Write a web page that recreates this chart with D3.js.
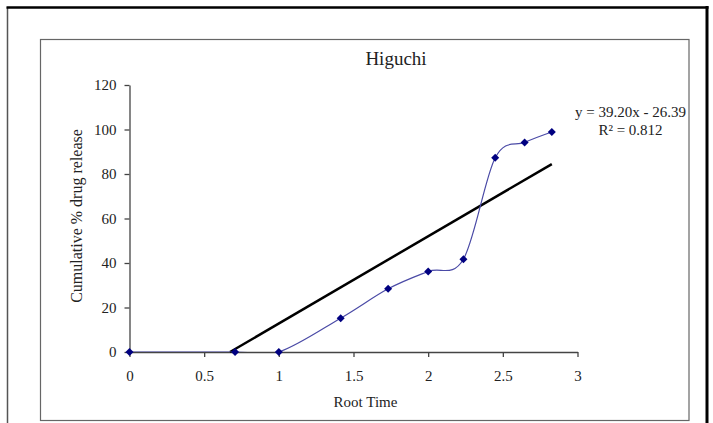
<!DOCTYPE html>
<html lang="en">
<head>
    <meta charset="utf-8">
    <title>Higuchi</title>
    <script src="https://d3js.org/d3.v7.min.js"></script>
    <style>
        body { margin: 0; background: #fff; }
        text { font-family: "Liberation Serif", "Times New Roman", serif; fill: #222; }
    </style>
</head>
<body onload="main()">
    <svg width="713" height="423" id="svg1"></svg>
    <script>
        // values
        var rootTime = [0, 0.707, 1, 1.414, 1.732, 2, 2.236, 2.449, 2.646, 2.828];
        var cumRelease = [0, 0, 0, 15.2, 28.4, 36.2, 41.7, 87.3, 94.2, 98.9];
        var xTicks = [0, 0.5, 1, 1.5, 2, 2.5, 3];
        var yTicks = [0, 20, 40, 60, 80, 100, 120];
        var trendSlope = 39.20,
            trendIntercept = -26.39;
        var trendLabels = ["y = 39.20x - 26.39", "R² = 0.812"];

        function main() {
            var svg1 = d3.select("#svg1");

            svg1.append("rect")
                .attr("width", 713).attr("height", 423)
                .attr("fill", "#fff");

            // outer frame (left thin, top and right thick)
            svg1.append("line").attr("x1", 7.5).attr("x2", 7.5).attr("y1", 7).attr("y2", 423)
                .attr("stroke", "#555").attr("stroke-width", 1.5);
            svg1.append("line").attr("x1", 6.5).attr("x2", 708.5).attr("y1", 7.5).attr("y2", 7.5)
                .attr("stroke", "#000").attr("stroke-width", 2.5);
            svg1.append("line").attr("x1", 707).attr("x2", 707).attr("y1", 6).attr("y2", 423)
                .attr("stroke", "#000").attr("stroke-width", 3);

            // chart area box
            svg1.append("rect")
                .attr("x", 40.5).attr("y", 39.5)
                .attr("width", 648.5).attr("height", 381)
                .attr("fill", "none")
                .attr("stroke", "#666")
                .attr("stroke-width", 1.2);

            var left = 129.5, top = 85, width = 448, height = 267;

            var xScale = d3.scaleLinear().domain([0, 3]).range([0, width]),
                yScale = d3.scaleLinear().domain([0, 120]).range([height, 0]);

            var g = svg1.append("g")
                .attr("transform", "translate(" + left + "," + top + ")");

            // keep the smoothed line from dipping under the x axis
            g.append("clipPath").attr("id", "plotclip")
                .append("rect")
                .attr("x", -10).attr("y", -20)
                .attr("width", width + 20).attr("height", height + 20);

            var xAxis = g.append("g")
                .attr("transform", "translate(0," + height + ")")
                .call(d3.axisBottom(xScale).tickValues(xTicks).tickSize(5).tickSizeOuter(0).tickPadding(13)
                    .tickFormat(function (d) { return d; }));
            var yAxis = g.append("g")
                .call(d3.axisLeft(yScale).tickValues(yTicks).tickSize(5).tickSizeOuter(0).tickPadding(8));

            [xAxis, yAxis].forEach(function (a) {
                a.select(".domain").attr("stroke", "#444").attr("stroke-width", 1.3);
                a.selectAll(".tick line").attr("stroke", "#444").attr("stroke-width", 1.3);
                a.selectAll(".tick text")
                    .attr("font-family", "Liberation Serif, Times New Roman, serif")
                    .attr("font-size", "15px")
                    .attr("fill", "#222");
            });

            // axis titles
            svg1.append("text")
                .attr("x", 365.5).attr("y", 407)
                .attr("text-anchor", "middle")
                .attr("font-size", "15px")
                .text("Root Time");
            svg1.append("text")
                .attr("transform", "translate(82,216) rotate(-90)")
                .attr("text-anchor", "middle")
                .attr("font-size", "16px")
                .text("Cumulative % drug release");
            svg1.append("text")
                .attr("x", 396).attr("y", 65)
                .attr("text-anchor", "middle")
                .attr("font-size", "19px")
                .text("Higuchi");

            // linear trendline, clipped at y = 0
            var x0 = -trendIntercept / trendSlope,
                x1 = d3.max(rootTime);
            g.append("line")
                .attr("x1", xScale(x0)).attr("y1", yScale(trendSlope * x0 + trendIntercept))
                .attr("x2", xScale(x1)).attr("y2", yScale(trendSlope * x1 + trendIntercept))
                .attr("stroke", "#000")
                .attr("stroke-width", 2.5);

            var data = rootTime.map(function (t, i) { return { x: t, y: cumRelease[i] }; });

            // smoothed series line
            g.append("path")
                .datum(data)
                .attr("clip-path", "url(#plotclip)")
                .attr("fill", "none")
                .attr("stroke", "#4a4aa6")
                .attr("stroke-width", 1.2)
                .attr("d", d3.line()
                    .curve(d3.curveCardinal.tension(0))
                    .x(function (d) { return xScale(d.x); })
                    .y(function (d) { return yScale(d.y); }));

            // diamond markers
            g.selectAll(".dot")
                .data(data)
                .enter().append("path")
                .attr("class", "dot")
                .attr("transform", function (d) { return "translate(" + xScale(d.x) + "," + yScale(d.y) + ")"; })
                .attr("d", "M0,-4L4,0L0,4L-4,0Z")
                .attr("fill", "#000080");

            // trendline equation
            svg1.selectAll(".eq")
                .data(trendLabels)
                .enter().append("text")
                .attr("class", "eq")
                .attr("x", 630.5)
                .attr("y", function (d, i) { return 116.5 + i * 18; })
                .attr("text-anchor", "middle")
                .attr("font-size", "15px")
                .text(function (d) { return d; });
        }
    </script>
</body>
</html>
